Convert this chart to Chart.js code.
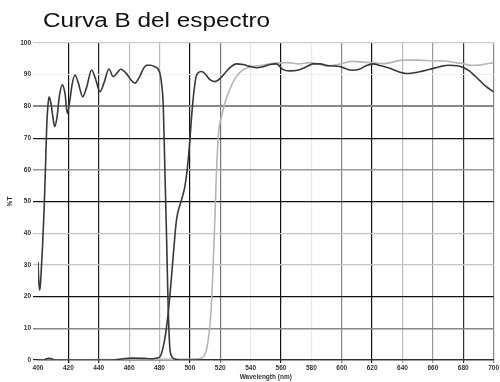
<!DOCTYPE html>
<html>
<head>
<meta charset="utf-8">
<script src="https://cdn.jsdelivr.net/npm/chart.js@4/dist/chart.umd.min.js"></script>
<style>
html,body{margin:0;padding:0;background:#fff;}
#wrap{width:500px;height:382px;position:relative;}
</style>
</head>
<body>
<div id="wrap"><canvas id="c" width="500" height="382"></canvas></div>
<script>
// Series A: dark short-pass edge
const wlA = [400, 400.5, 401.2, 402, 403, 404, 405, 405.7, 406.5, 407.3, 408.5, 410, 411, 412.5, 414, 416, 417.8, 419.3, 421, 422.5, 424.3, 426.5, 429.4, 432, 435.3, 438, 440.8, 443.5, 446.7, 449.5, 452, 454.4, 458, 461, 463.8, 467, 469.5, 471.5, 474, 477, 479, 480.3, 481.3, 482.5, 483.6, 484.7, 485.7, 486.8, 488, 489, 492, 500, 700];
const tA  = [31, 25, 22, 27, 36, 47, 62, 73, 80, 83, 81, 76, 73.6, 76.5, 83, 86.8, 84, 77.8, 82, 87, 89.9, 87.5, 83, 86, 91.5, 88.5, 84.6, 87.5, 91.8, 89.4, 90.5, 91.7, 90.5, 88.5, 87.3, 89.5, 92, 93, 93, 92.5, 91.8, 90.4, 87.5, 80, 59, 38, 17, 4, 1.2, 0.6, 0.1, 0, 0];
// Series B: dark long-pass edge
const wlB = [400, 404, 405.5, 407, 409, 410.5, 450, 456, 462, 470, 474, 478, 480.3, 482.5, 484.7, 486.8, 489, 491.2, 494.5, 496.7, 498.9, 500, 501.7, 503.9, 505.5, 507.5, 510, 513, 516.5, 520, 524, 527, 530.7, 535, 539, 544, 548, 552.6, 557, 561.4, 566, 570, 576.8, 581, 585.5, 592, 598.7, 602, 607, 612, 616, 620.4, 626, 631.6, 637, 642.5, 650, 658, 665, 671, 676, 680, 684, 688, 690.8, 695, 700];
const tB  = [0, 0, 0.4, 0.5, 0.4, 0, 0, 0.4, 0.6, 0.5, 0.4, 0.6, 1, 4.2, 10.5, 20, 32.6, 44.2, 50.5, 54.7, 63, 69.4, 80, 89, 90.6, 91, 90.3, 88.5, 87.8, 88.8, 91, 92.5, 93.4, 93.2, 92.7, 92.2, 92.5, 93.2, 93.4, 91.6, 91.2, 91.3, 92.5, 93.4, 93.4, 92.8, 92.6, 92, 91.4, 91.8, 92.8, 93.4, 92.8, 92, 91, 90.4, 90.8, 91.7, 92.6, 93, 92.8, 92.3, 91.2, 89.5, 88.2, 86.3, 84.6];
// Series C: light long-pass edge
const wlC = [400, 505, 509, 512, 514, 516, 517.5, 519, 521, 523, 526, 530, 535, 540, 548, 555, 564, 572, 579, 585, 590, 599, 607, 618, 628, 640, 650, 660, 668, 675, 680, 684, 689, 693, 700];
const tC  = [0, 0.3, 1, 6, 16, 38, 59, 72, 77, 81, 85, 89, 91.5, 92.5, 93, 93.6, 93.8, 93.4, 93.8, 93.3, 92.7, 93.4, 94.2, 93.8, 93.5, 94.6, 94.6, 94.4, 94.3, 93.8, 93.5, 93, 93, 93.2, 93.8];

const xTicks = [400, 420, 440, 460, 480, 500, 520, 540, 560, 580, 600, 620, 640, 660, 680, 700];
const yTicks = [0, 10, 20, 30, 40, 50, 60, 70, 80, 90, 100];
const xGridColors = ['rgba(0,0,0,0)', '#111', '#222', '#bbb', '#bbb', '#111', '#777', '#e8e8e8', '#111', '#e8e8e8', '#888', '#111', '#bbb', '#999', '#333', '#888'];
const yGridColors = ['#222', '#888', '#111', '#c4c4c4', '#c4c4c4', '#111', '#999', '#111', '#888', '#eeeeee', '#cccccc'];
const yGridWidths = [1.2, 1.5, 1.2, 1.2, 1.2, 1.2, 1.5, 1.2, 2, 1, 1.2];

const titleText = 'Curva B del espectro';
const xTitle = 'Wavelength (nm)';
const yTitle = '%T';

const zip = (xs, ys) => xs.map((x, i) => ({x: x, y: ys[i]}));

const titlePlugin = {
  id: 'manualTitle',
  afterDraw(chart) {
    const ctx = chart.ctx;
    ctx.save();
    ctx.font = '20px "Liberation Sans", Arial, sans-serif';
    ctx.fillStyle = '#111';
    ctx.textBaseline = 'alphabetic';
    ctx.textAlign = 'left';
    const w = ctx.measureText(titleText).width;
    ctx.translate(43, 27);
    ctx.scale(227 / w, 1);
    ctx.fillText(titleText, 0, 0);
    ctx.restore();
  }
};

const tickFont = {family: '"Liberation Sans", Arial, sans-serif', size: 6.5, weight: 'bold'};

new Chart(document.getElementById('c'), {
  type: 'line',
  data: {
    datasets: [
      {data: zip(wlA, tA), borderColor: '#383838', borderWidth: 1.6, order: 1},
      {data: zip(wlB, tB), borderColor: '#383838', borderWidth: 1.6, order: 2},
      {data: zip(wlC, tC), borderColor: '#b5b5b5', borderWidth: 1.6, order: 3}
    ]
  },
  options: {
    responsive: false,
    animation: false,
    parsing: true,
    layout: {padding: {left: 0, right: 6, top: 43, bottom: 0}},
    elements: {
      point: {radius: 0},
      line: {cubicInterpolationMode: 'monotone', fill: false}
    },
    plugins: {legend: {display: false}, title: {display: false}, tooltip: {enabled: false}},
    scales: {
      x: {
        type: 'linear', min: 400, max: 700,
        afterBuildTicks: s => { s.ticks = xTicks.map(v => ({value: v})); },
        afterFit: s => { s.height = 22; },
        ticks: {autoSkip: false, maxRotation: 0, font: tickFont, color: '#333', padding: 1},
        grid: {
          color: ctx => xGridColors[ctx.index] || '#ccc',
          lineWidth: 1.2, tickLength: 3, drawTicks: true
        },
        border: {display: true, color: '#222', width: 1.2},
        title: {display: true, text: xTitle, font: tickFont, color: '#333', padding: {top: 0, bottom: 1}}
      },
      y: {
        min: 0, max: 100,
        afterBuildTicks: s => { s.ticks = yTicks.map(v => ({value: v})); },
        afterFit: s => { s.width = 38; },
        ticks: {font: tickFont, color: '#333', padding: 2},
        grid: {
          color: ctx => yGridColors[ctx.index] || '#ccc',
          lineWidth: ctx => yGridWidths[ctx.index] || 1,
          tickLength: 5
        },
        border: {display: false},
        title: {display: true, text: yTitle, font: tickFont, color: '#333', padding: {top: 6, bottom: 0}}
      }
    }
  },
  plugins: [titlePlugin]
});
</script>
</body>
</html>
